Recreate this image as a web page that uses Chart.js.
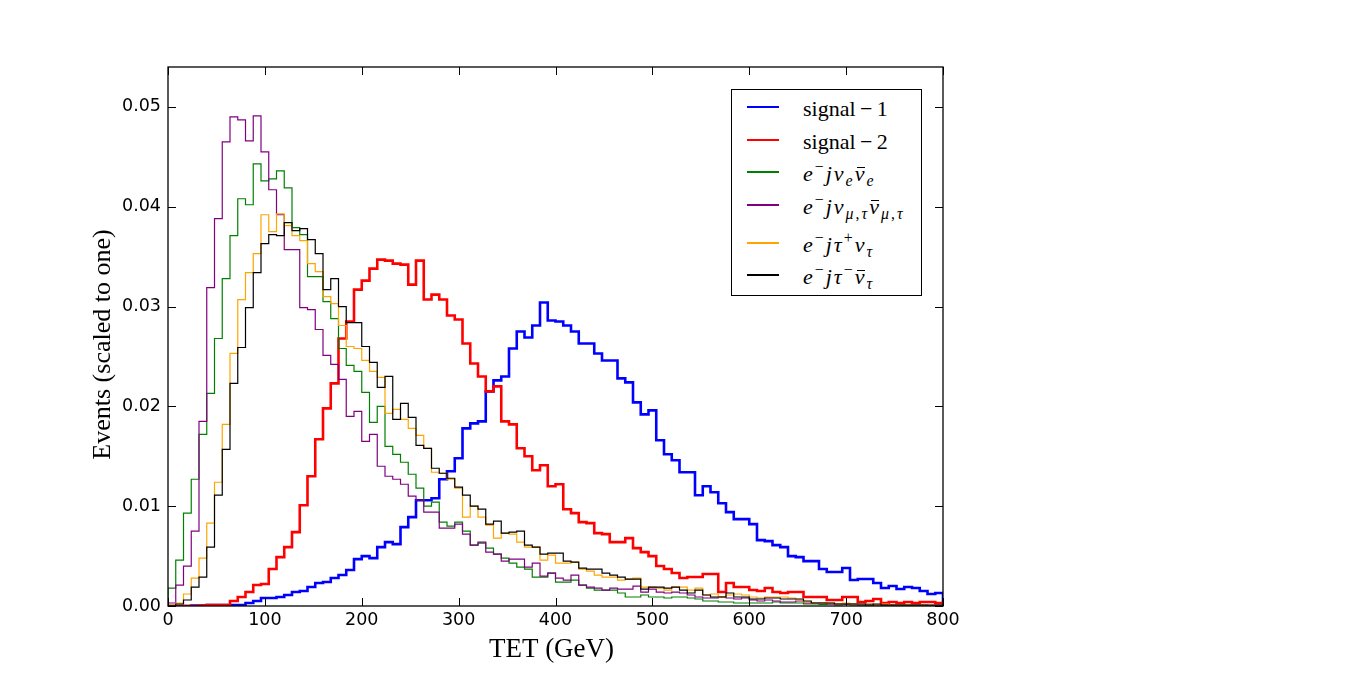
<!DOCTYPE html>
<html>
<head>
<meta charset="utf-8">
<title>TET distributions</title>
<script src="https://cdn.jsdelivr.net/npm/chart.js@4.4.1/dist/chart.umd.min.js"></script>
<style>
    html, body { margin: 0; padding: 0; background: #fff; }
    #wrap { position: relative; width: 1349px; height: 674px; }
    #legend {
        position: absolute; left: 731px; top: 89px; width: 191px; height: 207px;
        box-sizing: border-box; border: 1.3px solid #000; background: #fff;
        font-family: 'Liberation Serif', 'DejaVu Serif', serif; font-size: 22px; color: #000;
    }
    #legend .row { position: absolute; left: 0; width: 100%; height: 0; }
    #legend .swatch { position: absolute; left: 15px; width: 32px; top: -1px; height: 1.5px; }
    #legend .label { position: absolute; left: 71px; top: -9px; white-space: nowrap; line-height: 1; }
    #legend .math { letter-spacing: 2px; }
    #legend sup { font-size: 0.72em; vertical-align: 0.55em; line-height: 0; }
    #legend sub { font-size: 0.72em; vertical-align: -0.3em; line-height: 0; }
    #legend i { font-style: italic; }
    #legend .bar { position: relative; display: inline-block; line-height: 1; }
    #legend .bar::after {
        content: ''; position: absolute; left: 18%; right: 14%; top: 0.2em;
        border-top: 1.2px solid #000;
    }
</style>
</head>
<body>
<div id="wrap">
    <canvas id="tetChart"></canvas>
    <div id="legend">
        <div class="row" style="top:17px"><span class="swatch" style="background:#0000ff"></span><span class="label">signal&thinsp;&minus;&thinsp;1</span></div>
        <div class="row" style="top:50px"><span class="swatch" style="background:#ff0000"></span><span class="label">signal&thinsp;&minus;&thinsp;2</span></div>
        <div class="row" style="top:82px"><span class="swatch" style="background:#008000"></span><span class="label math"><i>e</i><sup>&minus;</sup><i>j&nu;</i><sub><i>e</i></sub><i class="bar">&nu;</i><sub><i>e</i></sub></span></div>
        <div class="row" style="top:115px"><span class="swatch" style="background:#800080"></span><span class="label math"><i>e</i><sup>&minus;</sup><i>j&nu;</i><sub><i>&mu;</i>,<i>&tau;</i></sub><i class="bar">&nu;</i><sub><i>&mu;</i>,<i>&tau;</i></sub></span></div>
        <div class="row" style="top:153px"><span class="swatch" style="background:#ffa500"></span><span class="label math"><i>e</i><sup>&minus;</sup><i>j&tau;</i><sup>+</sup><i>&nu;</i><sub><i>&tau;</i></sub></span></div>
        <div class="row" style="top:185px"><span class="swatch" style="background:#000000"></span><span class="label math"><i>e</i><sup>&minus;</sup><i>j&tau;</i><sup>&minus;</sup><i class="bar">&nu;</i><sub><i>&tau;</i></sub></span></div>
    </div>
</div>
<script>
// --- Histogram data (100 bins of 8 GeV, normalised to one) ---
const binEdges = [
    0, 8, 16, 24, 32, 40, 48, 56, 64, 72,
    80, 88, 96, 104, 112, 120, 128, 136, 144, 152,
    160, 168, 176, 184, 192, 200, 208, 216, 224, 232,
    240, 248, 256, 264, 272, 280, 288, 296, 304, 312,
    320, 328, 336, 344, 352, 360, 368, 376, 384, 392,
    400, 408, 416, 424, 432, 440, 448, 456, 464, 472,
    480, 488, 496, 504, 512, 520, 528, 536, 544, 552,
    560, 568, 576, 584, 592, 600, 608, 616, 624, 632,
    640, 648, 656, 664, 672, 680, 688, 696, 704, 712,
    720, 728, 736, 744, 752, 760, 768, 776, 784, 792,
    800
];

const signal1 = [
    0, 0, 0, 0.00005, 0.00005, 0.0001, 0.0001, 0.0001, 0.0001, 0.0001,
    0.0003, 0.0005, 0.0008, 0.0008, 0.0009, 0.0011, 0.0014, 0.0015, 0.0019, 0.0023,
    0.0024, 0.0028, 0.0031, 0.0036, 0.0047, 0.0050, 0.0048, 0.0059, 0.0064, 0.0062,
    0.0079, 0.0089, 0.0106, 0.0106, 0.0108, 0.0127, 0.0135, 0.0148, 0.0178, 0.0183,
    0.0185, 0.0215, 0.0226, 0.0230, 0.0258, 0.0275, 0.0269, 0.0281, 0.0304, 0.0286,
    0.0285, 0.0281, 0.0275, 0.0263, 0.0263, 0.0253, 0.0246, 0.0246, 0.0228, 0.0224,
    0.0204, 0.0192, 0.0196, 0.0166, 0.0152, 0.0146, 0.0134, 0.0134, 0.0111, 0.0120,
    0.0114, 0.0103, 0.0094, 0.0087, 0.0087, 0.0082, 0.0066, 0.0065, 0.0061, 0.0059,
    0.0050, 0.0049, 0.0045, 0.0045, 0.0037, 0.0034, 0.0034, 0.0038, 0.0026, 0.0027,
    0.0027, 0.0023, 0.0018, 0.0020, 0.0017, 0.0019, 0.0018, 0.0015, 0.0012, 0.0013
];

const signal2 = [
    0, 0, 0, 0, 0.00005, 0.0001, 0.0001, 0.0001, 0.0005, 0.0009,
    0.0014, 0.0021, 0.0022, 0.0037, 0.0049, 0.0059, 0.0074, 0.0101, 0.0130, 0.0167,
    0.0198, 0.0223, 0.0268, 0.0285, 0.0317, 0.0326, 0.0338, 0.0347, 0.0346, 0.0343,
    0.0342, 0.0322, 0.0346, 0.0307, 0.0312, 0.0307, 0.0291, 0.0287, 0.0263, 0.0243,
    0.0230, 0.0215, 0.0220, 0.0185, 0.0182, 0.0158, 0.0150, 0.0136, 0.0141, 0.0120,
    0.0122, 0.0097, 0.0093, 0.0084, 0.0083, 0.0073, 0.0072, 0.0064, 0.0064, 0.0068,
    0.0058, 0.0054, 0.0050, 0.0040, 0.0037, 0.0033, 0.0028, 0.0029, 0.0029, 0.0032,
    0.0032, 0.0014, 0.0023, 0.0019, 0.0019, 0.0016, 0.0015, 0.0018, 0.0014, 0.0013,
    0.0014, 0.0014, 0.0009, 0.0009, 0.0009, 0.0006, 0.0006, 0.0009, 0.0009, 0.0004,
    0.0005, 0.0007, 0.0003, 0.0004, 0.0003, 0.0004, 0.0003, 0.0004, 0.0004, 0.0003
];

const bkgNuE = [
    0.0018, 0.0046, 0.0093, 0.0127, 0.0172, 0.0213, 0.0268, 0.0328, 0.0371, 0.0408,
    0.0402, 0.0443, 0.0426, 0.0428, 0.0436, 0.0419, 0.0379, 0.0372, 0.0330, 0.0330,
    0.0305, 0.0288, 0.0258, 0.0241, 0.0235, 0.0214, 0.0184, 0.0200, 0.0160, 0.0152,
    0.0144, 0.0132, 0.0118, 0.0100, 0.0104, 0.0084, 0.0080, 0.0084, 0.0075, 0.0061,
    0.0063, 0.0058, 0.0052, 0.0048, 0.0043, 0.0039, 0.0037, 0.0029, 0.0029, 0.0033,
    0.0024, 0.0024, 0.0026, 0.0021, 0.0018, 0.0016, 0.0016, 0.0016, 0.0013, 0.0009,
    0.0009, 0.0011, 0.0009, 0.0009, 0.0008, 0.0009, 0.0009, 0.0008, 0.0007, 0.0005,
    0.0005, 0.0004, 0.0004, 0.0003, 0.0003, 0.0003, 0.0003, 0.0003, 0.0004, 0.0003,
    0.0003, 0.0003, 0.0002, 0.0002, 0.00015, 0.0002, 0.0001, 0.0002, 0.0001, 0.0001,
    0.0001, 0.0001, 0.0001, 0.0001, 0.0001, 0.00005, 0.0001, 0.00005, 0.00005, 0.00005
];

const bkgNuMuTau = [
    0.0003, 0.0021, 0.0040, 0.0075, 0.0185, 0.0319, 0.0388, 0.0465, 0.0490, 0.0487,
    0.0466, 0.0491, 0.0455, 0.0417, 0.0392, 0.0357, 0.0357, 0.0299, 0.0297, 0.0277,
    0.0251, 0.0242, 0.0227, 0.0190, 0.0195, 0.0165, 0.0172, 0.0140, 0.0130, 0.0127,
    0.0122, 0.0110, 0.0106, 0.0094, 0.0094, 0.0078, 0.0078, 0.0082, 0.0072, 0.0061,
    0.0064, 0.0054, 0.0052, 0.0045, 0.0047, 0.0047, 0.0039, 0.0043, 0.0030, 0.0033,
    0.0028, 0.0026, 0.0031, 0.0021, 0.0019, 0.0018, 0.0016, 0.0018, 0.0017, 0.0017,
    0.0020, 0.0014, 0.0017, 0.0014, 0.0013, 0.0014, 0.0013, 0.0011, 0.0009, 0.0008,
    0.0008, 0.0009, 0.0008, 0.0007, 0.0008, 0.0006, 0.0005, 0.0006, 0.0005, 0.0004,
    0.0004, 0.0005, 0.0003, 0.0003, 0.0003, 0.0002, 0.0002, 0.0002, 0.0002, 0.0001,
    0.0002, 0.0001, 0.0001, 0.0001, 0.0001, 0.0001, 0.0001, 0.0001, 0.00005, 0.0001
];

const bkgTauPlus = [
    0.0001, 0.0003, 0.0012, 0.0028, 0.0048, 0.0083, 0.0124, 0.0182, 0.0253, 0.0307,
    0.0334, 0.0353, 0.0392, 0.0375, 0.0393, 0.0381, 0.0371, 0.0366, 0.0343, 0.0335,
    0.0310, 0.0303, 0.0281, 0.0260, 0.0258, 0.0246, 0.0235, 0.0229, 0.0193, 0.0197,
    0.0187, 0.0178, 0.0171, 0.0158, 0.0134, 0.0133, 0.0127, 0.0118, 0.0089, 0.0100,
    0.0089, 0.0081, 0.0068, 0.0073, 0.0072, 0.0064, 0.0059, 0.0059, 0.0046, 0.0051,
    0.0043, 0.0043, 0.0044, 0.0037, 0.0035, 0.0031, 0.0029, 0.0029, 0.0026, 0.0027,
    0.0028, 0.0019, 0.0019, 0.0018, 0.0016, 0.0019, 0.0019, 0.0016, 0.0018, 0.0011,
    0.0012, 0.0009, 0.0011, 0.0012, 0.0011, 0.0009, 0.0008, 0.0009, 0.0009, 0.0009,
    0.0008, 0.0006, 0.0004, 0.0003, 0.0003, 0.0003, 0.0002, 0.0003, 0.0002, 0.0002,
    0.0002, 0.0001, 0.0002, 0.0001, 0.0001, 0.0001, 0.0001, 0.0001, 0.0001, 0.0001
];

const bkgTauMinus = [
    0, 0.0002, 0.0006, 0.0019, 0.0029, 0.0059, 0.0111, 0.0157, 0.0223, 0.0259,
    0.0299, 0.0334, 0.0363, 0.0372, 0.0371, 0.0384, 0.0376, 0.0378, 0.0367, 0.0353,
    0.0317, 0.0328, 0.0300, 0.0284, 0.0284, 0.0260, 0.0244, 0.0219, 0.0230, 0.0187,
    0.0203, 0.0189, 0.0161, 0.0158, 0.0138, 0.0133, 0.0128, 0.0119, 0.0111, 0.0100,
    0.0097, 0.0082, 0.0085, 0.0073, 0.0074, 0.0075, 0.0061, 0.0059, 0.0052, 0.0053,
    0.0053, 0.0045, 0.0044, 0.0038, 0.0037, 0.0037, 0.0033, 0.0031, 0.0029, 0.0027,
    0.0027, 0.0017, 0.0019, 0.0019, 0.0018, 0.0019, 0.0016, 0.0013, 0.0016, 0.0011,
    0.0009, 0.0009, 0.0013, 0.0009, 0.0009, 0.0007, 0.0007, 0.0008, 0.0008, 0.0007,
    0.0007, 0.0007, 0.0005, 0.0003, 0.0003, 0.0003, 0.0002, 0.0002, 0.0002, 0.0002,
    0.0001, 0.0002, 0.0001, 0.0001, 0.0001, 0.0001, 0.0001, 0.0001, 0.0001, 0.0001
];

// --- Axis ticks and titles ---
const xTicks = [0, 100, 200, 300, 400, 500, 600, 700, 800];
const yTicks = [0, 0.01, 0.02, 0.03, 0.04, 0.05];
const xTitle = 'TET (GeV)';
const yTitle = 'Events (scaled to one)';

// Turn bin contents into the outline of a step histogram
function stepOutline(values) {
    const pts = [{ x: binEdges[0], y: 0 }];
    values.forEach((v, i) => {
        pts.push({ x: binEdges[i], y: v });
        pts.push({ x: binEdges[i + 1], y: v });
    });
    pts.push({ x: binEdges[values.length], y: 0 });
    return pts;
}

function histDataset(label, values, color, width, order) {
    return {
        label: label,
        data: stepOutline(values),
        borderColor: color,
        backgroundColor: color,
        borderWidth: width,
        pointRadius: 0,
        tension: 0,
        fill: false,
        order: order
    };
}

const serif = "'Liberation Serif', 'DejaVu Serif', serif";
const sans = "'DejaVu Sans', sans-serif";

// Frame, inward tick marks on all four sides, and the axis titles
const frameTicks = {
    id: 'frameTicks',
    afterDatasetsDraw(chart) {
        const { ctx, chartArea: a, scales: { x, y } } = chart;
        const len = 8;
        ctx.save();
        ctx.strokeStyle = '#000';
        ctx.lineWidth = 1;
        ctx.beginPath();
        x.ticks.forEach(t => {
            const px = Math.round(x.getPixelForValue(t.value)) + 0.5;
            ctx.moveTo(px, a.bottom); ctx.lineTo(px, a.bottom - len);
            ctx.moveTo(px, a.top); ctx.lineTo(px, a.top + len);
        });
        y.ticks.forEach(t => {
            const py = Math.round(y.getPixelForValue(t.value)) + 0.5;
            ctx.moveTo(a.left, py); ctx.lineTo(a.left + len, py);
            ctx.moveTo(a.right, py); ctx.lineTo(a.right - len, py);
        });
        ctx.stroke();
        ctx.lineWidth = 1.3;
        ctx.strokeRect(a.left, a.top, a.right - a.left, a.bottom - a.top);

        ctx.fillStyle = '#000';
        ctx.font = `27px ${serif}`;
        ctx.textAlign = 'center';
        ctx.textBaseline = 'alphabetic';
        ctx.fillText(xTitle, (a.left + a.right) / 2 - 4, a.bottom + 51);
        ctx.translate(a.left - 58, (a.top + a.bottom) / 2 + 8);
        ctx.rotate(-Math.PI / 2);
        ctx.font = `26px ${serif}`;
        ctx.fillText(yTitle, 0, 0);
        ctx.restore();
    }
};

new Chart(document.getElementById('tetChart'), {
    type: 'line',
    data: {
        datasets: [
            histDataset('signal-1', signal1, '#0000ff', 2.6, 6),
            histDataset('signal-2', signal2, '#ff0000', 2.6, 5),
            histDataset('e- j nu_e nubar_e', bkgNuE, '#008000', 1.2, 4),
            histDataset('e- j nu_mu,tau nubar_mu,tau', bkgNuMuTau, '#800080', 1.2, 3),
            histDataset('e- j tau+ nu_tau', bkgTauPlus, '#ffa500', 1.2, 2),
            histDataset('e- j tau- nubar_tau', bkgTauMinus, '#000000', 1.2, 1)
        ]
    },
    options: {
        responsive: true,
        maintainAspectRatio: false,
        animation: false,
        events: [],
        layout: { padding: { top: 67, right: 406, bottom: 0, left: 0 } },
        scales: {
            x: {
                type: 'linear',
                min: 0,
                max: 800,
                afterFit: (scale) => { scale.height = 68; },
                afterBuildTicks: (scale) => { scale.ticks = xTicks.map(v => ({ value: v })); },
                grid: { display: false, drawTicks: false },
                border: { display: false },
                ticks: {
                    color: '#000',
                    padding: 4,
                    maxRotation: 0,
                    font: { family: sans, size: 17.5 },
                    callback: (v) => String(v)
                }
            },
            y: {
                type: 'linear',
                min: 0,
                max: 0.054,
                afterFit: (scale) => { scale.width = 168; },
                afterBuildTicks: (scale) => { scale.ticks = yTicks.map(v => ({ value: v })); },
                grid: { display: false, drawTicks: false },
                border: { display: false },
                ticks: {
                    color: '#000',
                    padding: 7,
                    font: { family: sans, size: 17.5 },
                    callback: (v) => Number(v).toFixed(2)
                }
            }
        },
        plugins: {
            legend: { display: false },
            tooltip: { enabled: false }
        }
    },
    plugins: [frameTicks]
});
</script>
</body>
</html>
